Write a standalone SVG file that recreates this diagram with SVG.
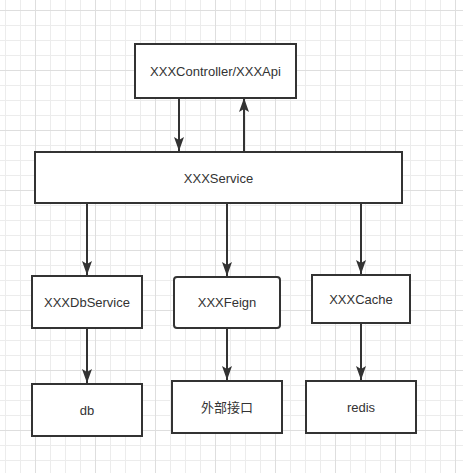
<svg xmlns="http://www.w3.org/2000/svg" width="463" height="473" viewBox="0 0 463 473">
<defs>
<pattern id="grid" patternUnits="userSpaceOnUse" x="35" y="10" width="60" height="60">
<path d="M15.5,0V60M30.5,0V60M45.5,0V60M0,15.5H60M0,30.5H60M0,45.5H60" stroke="#ececec" stroke-width="1" fill="none"/>
<path d="M0.5,0V60M0,0.5H60" stroke="#dedede" stroke-width="1" fill="none"/>
</pattern>
<marker id="arr" viewBox="0 0 14 10" refX="14" refY="5" markerWidth="14" markerHeight="10" markerUnits="userSpaceOnUse" orient="auto">
<path d="M0,0 L14,5 L0,10 L3,5 Z" fill="#333"/>
</marker>
</defs>
<style>
.box{fill:#fff;stroke:#333;stroke-width:2}
.lbl{font-family:"Liberation Sans","Noto Sans CJK SC",sans-serif;font-size:13px;fill:#333;text-anchor:middle;dominant-baseline:central}
.conn{stroke:#333;stroke-width:2;fill:none;marker-end:url(#arr)}
</style>
<rect width="463" height="473" fill="#fff"/>
<rect width="463" height="473" fill="url(#grid)"/>
<g id="connectors">
<line class="conn" x1="179" y1="98" x2="179" y2="151"/>
<line class="conn" x1="244" y1="152" x2="244" y2="98"/>
<line class="conn" x1="87" y1="203" x2="87" y2="275"/>
<line class="conn" x1="227" y1="203" x2="227" y2="276"/>
<line class="conn" x1="361" y1="203" x2="361" y2="274"/>
<line class="conn" x1="87" y1="328" x2="87" y2="383"/>
<line class="conn" x1="227" y1="328" x2="227" y2="380"/>
<line class="conn" x1="361" y1="323" x2="361" y2="380"/>
</g>
<g id="controller">
<rect class="box" x="135" y="44" width="161" height="54"/>
<text class="lbl" x="215.5" y="71">XXXController/XXXApi</text>
</g>
<g id="service">
<rect class="box" x="35" y="152" width="367" height="51"/>
<text class="lbl" x="218.5" y="178">XXXService</text>
</g>
<g id="dbservice">
<rect class="box" x="32" y="276" width="110" height="52"/>
<text class="lbl" x="87" y="302">XXXDbService</text>
</g>
<g id="feign">
<rect class="box" x="174" y="277" width="106" height="51" rx="3"/>
<text class="lbl" x="227" y="302">XXXFeign</text>
</g>
<g id="cache">
<rect class="box" x="312" y="275" width="98" height="48"/>
<text class="lbl" x="361" y="299">XXXCache</text>
</g>
<g id="db">
<rect class="box" x="32" y="384" width="110" height="52"/>
<text class="lbl" x="87" y="410">db</text>
</g>
<g id="external">
<rect class="box" x="172" y="381" width="110" height="52"/>
<text class="lbl" x="227" y="407">外部接口</text>
</g>
<g id="redis">
<rect class="box" x="306" y="381" width="110" height="52"/>
<text class="lbl" x="361" y="407">redis</text>
</g>
</svg>
